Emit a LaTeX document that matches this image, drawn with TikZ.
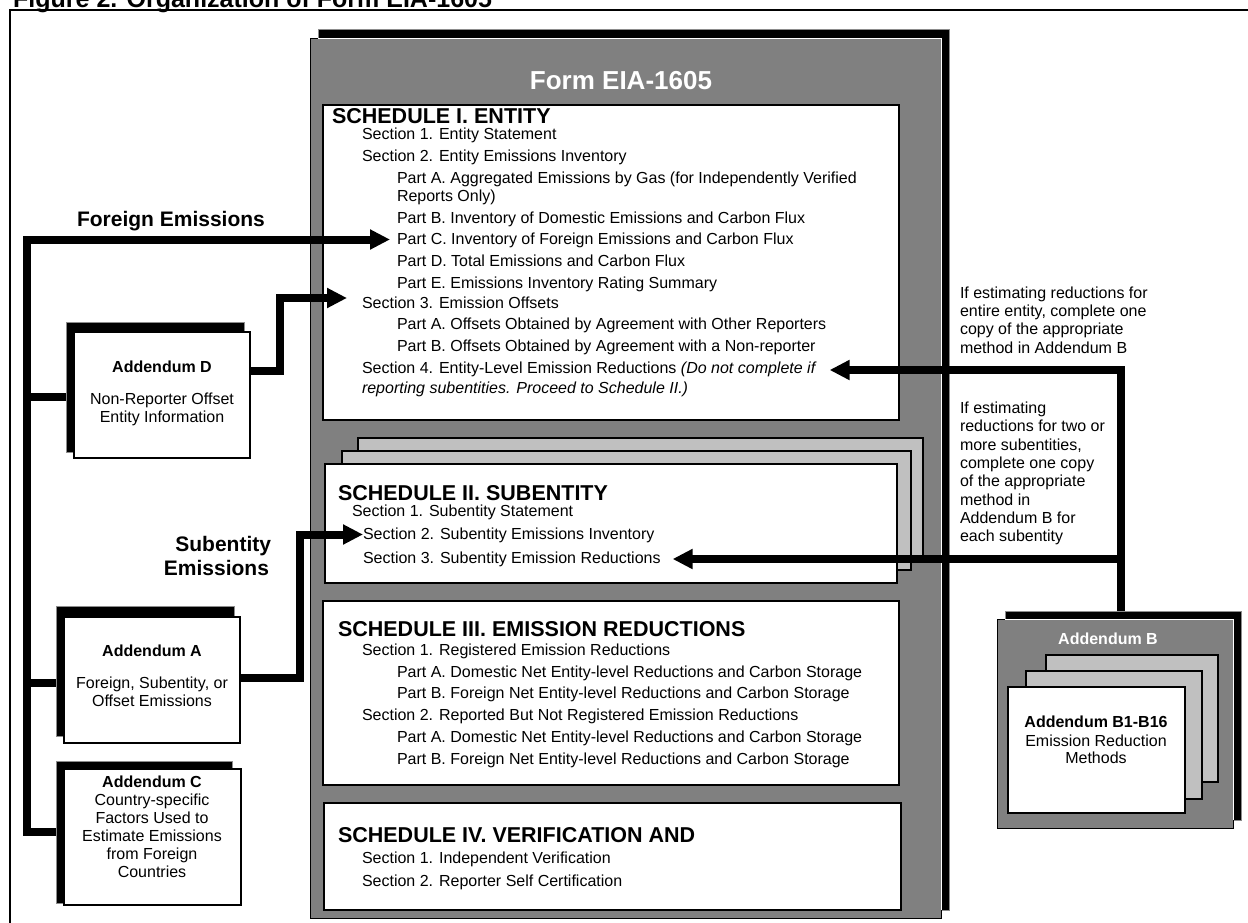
\documentclass[tikz,border=0pt]{standalone}
\usepackage{fontspec}
\setmainfont{Liberation Sans}
\usetikzlibrary{arrows.meta,calc}
\definecolor{formgray}{RGB}{128,128,128}
\definecolor{sheetgray}{RGB}{192,192,192}
\tikzset{
  tx/.style={inner sep=0pt, outer sep=0pt, anchor=base west, font=\fontsize{16}{18}\selectfont},
  txc/.style={tx, anchor=base},
  txb/.style={txc, font=\bfseries\fontsize{16}{18}\selectfont},
  hd/.style={inner sep=0pt, outer sep=0pt, anchor=base west, font=\bfseries\fontsize{21.5}{24}\selectfont},
  lbl/.style={inner sep=0pt, outer sep=0pt, anchor=base, font=\bfseries\fontsize{21}{24}\selectfont},
  rb/.style={inner sep=0pt, outer sep=0pt, anchor=north west},
  whitebox/.style={rb, draw=black, line width=1.5pt, fill=white},
  sheet/.style={rb, draw=black, line width=1.5pt, fill=sheetgray},
  graybox/.style={rb, draw=black, line width=1pt, fill=formgray},
  blackshadow/.style={rb, fill=black, draw=black!45, line width=0.8pt},
  conn/.style={draw=black, line width=8pt},
  arr/.style={-{Triangle[length=20pt,width=19pt]}}
}
\newcommand{\rbox}[6]{\node[#1, minimum width={(#5-#3)*1pt}, minimum height={(#6-#4)*1pt}] (#2) at (#3,#4) {};}
\newcommand{\tline}[4]{\node[tx] (#1) at (#2,#3) {#4};}
\newcommand{\ctline}[4]{\node[txc] (#1) at (#2,#3) {#4};}
\begin{document}
\begin{tikzpicture}[x=1pt,y=-1pt]
\useasboundingbox (0,0) rectangle (1248,922);
\clip (0,0) rectangle (1248,922);
\fill[white] (0,0) rectangle (1248,922);
% title and frame
\node[inner sep=0pt, anchor=base west, font=\bfseries\fontsize{25}{28}\selectfont] (title) at (13,7) {Figure 2. Organization of Form EIA-1605};
\draw[line width=1.5pt] (10,10) rectangle (1262,935);

% Form EIA-1605
\rbox{blackshadow}{formsh}{318}{29}{949}{910}
\rbox{graybox}{form}{310}{38}{941}{918}
\draw[white, line width=1pt] (318,38) -- (941,38) -- (941,910);
\node[inner sep=0pt, anchor=base, text=white, font=\bfseries\fontsize{26}{30}\selectfont] (formtitle) at (621,89) {Form EIA-1605};

% Schedule I
\rbox{whitebox}{sch1}{323}{105}{899}{420}
\node[hd] (h1) at (332,123) {SCHEDULE I. ENTITY};
\tline{a1}{362}{139.5}{Section 1. Entity Statement}
\tline{a2}{362}{161.5}{Section 2. Entity Emissions Inventory}
\tline{a3}{397}{183}{Part A. Aggregated Emissions by Gas (for Independently Verified}
\tline{a4}{397}{201}{Reports Only)}
\tline{a5}{397}{223}{Part B. Inventory of Domestic Emissions and Carbon Flux}
\tline{a6}{397}{244.5}{Part C. Inventory of Foreign Emissions and Carbon Flux}
\tline{a7}{397}{266.5}{Part D. Total Emissions and Carbon Flux}
\tline{a8}{397}{288}{Part E. Emissions Inventory Rating Summary}
\tline{a9}{362}{308}{Section 3. Emission Offsets}
\tline{a10}{397}{329.5}{Part A. Offsets Obtained by Agreement with Other Reporters}
\tline{a11}{397}{351}{Part B. Offsets Obtained by Agreement with a Non-reporter}
\tline{a12}{362}{373}{Section 4. Entity-Level Emission Reductions \textit{(Do not complete if}}
\tline{a13}{362}{393.5}{\textit{reporting subentities. Proceed to Schedule II.)}}

% Schedule II (stack)
\rbox{sheet}{sch2c}{358}{438}{923}{557}
\rbox{sheet}{sch2b}{342}{451}{911}{570}
\rbox{whitebox}{sch2}{325}{464}{897}{583}
\node[hd] (h2) at (338,500) {SCHEDULE II. SUBENTITY};
\tline{b1}{352}{516}{Section 1. Subentity Statement}
\tline{b2}{363}{539.5}{Section 2. Subentity Emissions Inventory}
\tline{b3}{363}{563}{Section 3. Subentity Emission Reductions}

% Schedule III
\rbox{whitebox}{sch3}{323}{601}{899}{785}
\node[hd] (h3) at (338,636) {SCHEDULE III. EMISSION REDUCTIONS};
\tline{c1}{362}{655}{Section 1. Registered Emission Reductions}
\tline{c2}{397}{677}{Part A. Domestic Net Entity-level Reductions and Carbon Storage}
\tline{c3}{397}{698}{Part B. Foreign Net Entity-level Reductions and Carbon Storage}
\tline{c4}{362}{720}{Section 2. Reported But Not Registered Emission Reductions}
\tline{c5}{397}{742}{Part A. Domestic Net Entity-level Reductions and Carbon Storage}
\tline{c6}{397}{764}{Part B. Foreign Net Entity-level Reductions and Carbon Storage}

% Schedule IV
\rbox{whitebox}{sch4}{324}{803}{901}{910}
\node[hd] (h4) at (338,842) {SCHEDULE IV. VERIFICATION AND};
\tline{d1}{362}{863}{Section 1. Independent Verification}
\tline{d2}{362}{886}{Section 2. Reporter Self Certification}

% Addendum D
\rbox{blackshadow}{addDsh}{66}{322}{244}{452}
\rbox{whitebox}{addD}{74}{332}{250}{458}
\node[txb] (addDt) at (162,372) {Addendum D};
\ctline{addD1}{162}{404}{Non-Reporter Offset}
\ctline{addD2}{162}{422}{Entity Information}

% Addendum A
\rbox{blackshadow}{addAsh}{56}{606}{234}{736}
\rbox{whitebox}{addA}{64}{617}{240}{743}
\node[txb] (addAt) at (152,656) {Addendum A};
\ctline{addA1}{152}{688}{Foreign, Subentity, or}
\ctline{addA2}{152}{706}{Offset Emissions}

% Addendum C
\rbox{blackshadow}{addCsh}{56}{761}{232}{903}
\rbox{whitebox}{addC}{64}{769}{241}{905}
\node[txb] (addCt) at (152,787) {Addendum C};
\ctline{addC1}{152}{805}{Country-specific}
\ctline{addC2}{152}{823}{Factors Used to}
\ctline{addC3}{152}{841.5}{Estimate Emissions}
\ctline{addC4}{152}{859.5}{from Foreign}
\ctline{addC5}{152}{877.5}{Countries}

% Addendum B
\rbox{blackshadow}{addBsh}{1005}{611}{1241}{820}
\rbox{graybox}{addB}{997}{619}{1233}{828}
\draw[white, line width=1pt] (1005,619) -- (1233,619) -- (1233,820);
\node[txb, text=white] (addBt) at (1108,644) {Addendum B};
\rbox{sheet}{addB3}{1046}{655}{1218}{782}
\rbox{sheet}{addB2}{1026}{671}{1202}{799}
\rbox{whitebox}{addB1}{1008}{687}{1185}{813}
\node[txb] (addB1t) at (1096,727) {Addendum B1-B16};
\ctline{addB1a}{1096}{746}{Emission Reduction}
\ctline{addB1b}{1096}{763.5}{Methods}

% labels
\node[lbl, anchor=base west] (lforeign) at (77,226) {Foreign Emissions};
\node[lbl, anchor=base east] (lsub1) at (271,551) {Subentity};
\node[lbl, anchor=base east] (lsub2) at (269,575) {Emissions};

\tline{r1}{960}{298}{If estimating reductions for}
\tline{r2}{960}{316.3}{entire entity, complete one}
\tline{r3}{960}{334.6}{copy of the appropriate}
\tline{r4}{960}{353}{method in Addendum B}
\tline{q1}{960}{413.5}{If estimating}
\tline{q2}{960}{431.8}{reductions for two or}
\tline{q3}{960}{450.1}{more subentities,}
\tline{q4}{960}{468.4}{complete one copy}
\tline{q5}{960}{486.7}{of the appropriate}
\tline{q6}{960}{505}{method in}
\tline{q7}{960}{523.3}{Addendum B for}
\tline{q8}{960}{541.6}{each subentity}

% connector targets
\coordinate (tC) at ($(a6.base west)+(-7,-5)$);
\coordinate (tS3) at ($(a9.base west)+(-15,-10)$);
\coordinate (tS4) at ($(a12.base east)+(13,-3)$);
\coordinate (tSS2) at ($(b2.base west)+(0,-5)$);
\coordinate (tSS3) at ($(b3.base east)+(12,-4)$);

% connectors
\draw[conn, arr] (addCsh.west |- 0,832) -- (27,832) |- (tC);
\draw[conn] (27,397) -- (addDsh.west |- 0,397);
\draw[conn] (27,683) -- (addAsh.west |- 0,683);
\draw[conn, arr] (addD.east |- 0,371) -| (tS3 -| 280,0) -- (tS3);
\draw[conn, arr] (addA.east |- 0,678) -| (tSS2 -| 300,0) -- (tSS2);
\draw[conn, arr] (addBsh.north -| 1121,0) |- (tS4);
\draw[conn, arr] (tSS3 -| 1121,0) -- (tSS3);
\end{tikzpicture}
\end{document}
